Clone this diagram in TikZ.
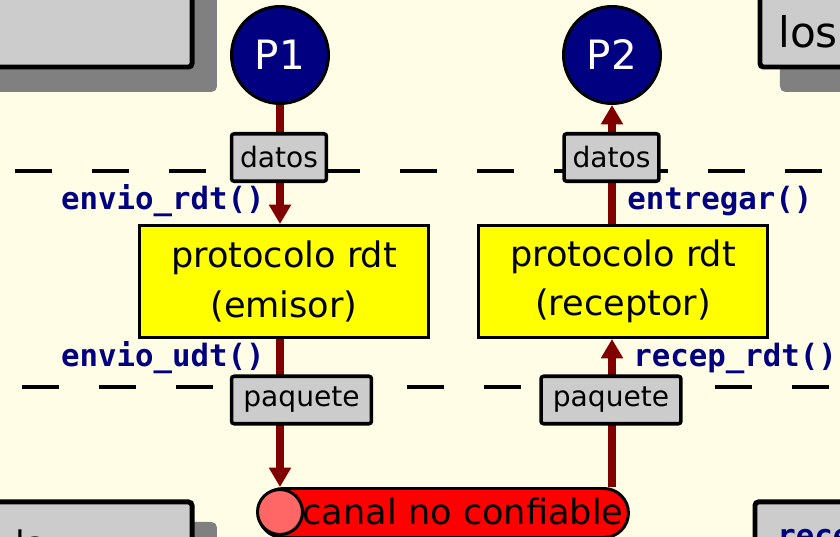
\documentclass[tikz,border=0pt]{standalone}
\usepackage{fontspec}
\setmainfont{DejaVu Sans}
\setmonofont{DejaVu Sans Mono}
\usetikzlibrary{arrows.meta,shadows}

\definecolor{crema}{HTML}{FFFDE5}
\definecolor{grisclaro}{HTML}{CCCCCC}
\definecolor{grissombra}{HTML}{808080}
\definecolor{azul}{HTML}{000080}
\definecolor{rojooscuro}{HTML}{800000}
\definecolor{amarillo}{HTML}{FFFF00}
\definecolor{rojo}{HTML}{FF0000}
\definecolor{rosa}{HTML}{FF6666}

\pgfdeclarelayer{fondo}
\pgfdeclarelayer{flechas}
\pgfsetlayers{fondo,flechas,main}

\tikzset{
  nota/.style={rectangle,draw=black,line width=2.8pt,fill=grisclaro,rounded corners=2pt,
    minimum width=6cm,minimum height=3cm,
    copy shadow={shadow xshift=0.45cm,shadow yshift=-0.45cm,fill=grissombra,draw=grissombra}},
  proc/.style={circle,draw=black,line width=1.7pt,fill=azul,text=white,inner sep=0pt,
    minimum size=1.94cm,font=\fontsize{23}{26}\selectfont},
  proto/.style={rectangle,draw=black,line width=1.7pt,fill=amarillo,align=center,
    minimum width=5.78cm,minimum height=2.24cm,font=\fontsize{20}{28}\selectfont},
  dato/.style={rectangle,draw=black,line width=2pt,fill=grisclaro,rounded corners=1.5pt,
    inner sep=0pt,minimum height=0.95cm,font=\fontsize{16}{18}\selectfont},
  llamada/.style={inner sep=0pt,text=azul,font=\fontsize{17.5}{20}\selectfont\ttfamily\bfseries},
  flujo/.style={line width=4pt,rojooscuro,-{Triangle[width=12pt,length=11pt]}},
  corte/.style={line width=2.1pt,dash pattern=on 21.06pt off 22.76pt},
}

\begin{document}
\begin{tikzpicture}[x=0.02cm,y=-0.02cm]
\useasboundingbox (0,0) rectangle (840,537);
\begin{pgfonlayer}{fondo}
  \fill[crema] (0,0) rectangle (840,537);
\end{pgfonlayer}

% notas laterales (cortadas por el borde)
\node[nota,anchor=south east] (notaA) at (194.5,69.5) {};
\node[nota,anchor=south west] (notaB) at (757.5,69.5) {};
\node[anchor=base west,inner sep=0pt,font=\fontsize{24}{28}\selectfont] (losTxt) at (778,48) {los};
\node[nota,anchor=north east] (notaC) at (194.5,499.5) {};
\node[anchor=base west,inner sep=0pt,font=\fontsize{20}{24}\selectfont] (laTxt) at (15,557) {la};
\node[nota,anchor=north west] (notaD) at (752.5,499.5) {};
\node[llamada,anchor=base west] (recTxt) at (777,547) {recep\_rdt():};

% procesos
\node[proc] (P1) at (280,55) {P1};
\node[proc] (P2) at (612,55) {P2};

% protocolos
\node[proto] (emisor) at (284,281.5) {protocolo rdt\\(emisor)};
\node[proto] (receptor) at (623,281.5) {protocolo rdt\\(receptor)};

% datos y paquetes
\node[dato,minimum width=1.9cm] (datosE) at (279,157.5) {datos};
\node[dato,minimum width=1.9cm] (datosR) at (611.5,157.5) {datos};
\node[dato,minimum width=2.8cm] (paqE) at (301.5,400) {paquete};
\node[dato,minimum width=2.8cm] (paqR) at (611,400) {paquete};

% canal
\node[rectangle,draw=black,line width=1.7pt,fill=rojo,rounded corners=0.49cm,
  minimum width=7.4cm,minimum height=0.98cm] (canal) at (443.5,513) {};
\node[circle,draw=black,line width=1.7pt,fill=rosa,minimum size=0.9cm,inner sep=0pt] (agujero) at (280,512) {};
\node[anchor=base,inner sep=0pt,font=\fontsize{20}{24}\selectfont] (canalTxt) at (463,524) {canal no confiable};

% llamadas
\node[llamada,anchor=base east] (envRdt) at (265,210) {envio\_rdt()};
\node[llamada,anchor=base west] (entregar) at (627,210) {entregar()};
\node[llamada,anchor=base east] (envUdt) at (265,367) {envio\_udt()};
\node[llamada,anchor=base west] (recRdt) at (633,367) {recep\_rdt()};

\begin{pgfonlayer}{flechas}
  \draw[corte] (15,171) -- (860,171);
  \draw[corte] (22,387) -- (860,387);
  \draw[flujo] (P1.south) -- (P1.south |- emisor.north);
  \draw[flujo] (P1 |- emisor.south) -- (P1 |- canal.north);
  \draw[flujo] (P2 |- canal.north) -- (P2 |- receptor.south);
  \draw[flujo] (P2 |- receptor.north) -- (P2.south);
\end{pgfonlayer}
\end{tikzpicture}
\end{document}
